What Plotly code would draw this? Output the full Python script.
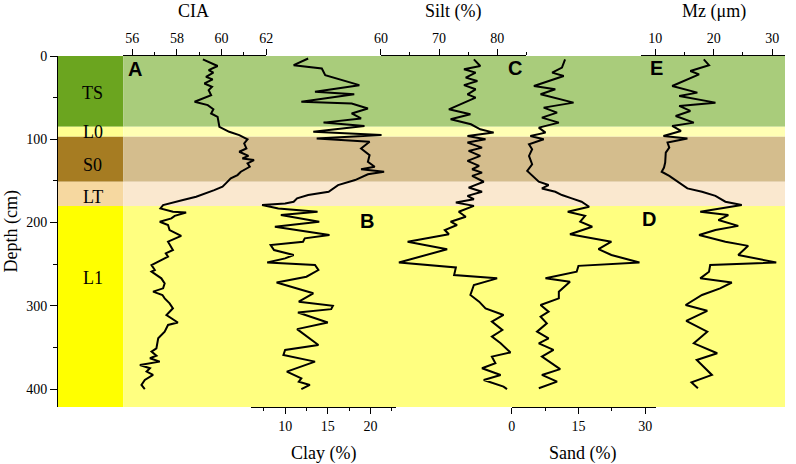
import plotly.graph_objects as go

# ---------------- data ----------------
layer_names = ["TS", "L0", "S0", "LT", "L1"]
layer_top = [0, 85, 97, 151, 180]
layer_bottom = [85, 97, 151, 180, 421.5]

cia_depth = [4, 12, 17, 20, 25, 28, 33, 37, 41, 47, 55, 59, 64, 69, 73, 85, 91, 95, 100, 105,
             111, 115, 120, 123, 125, 129, 133, 139, 143, 147, 153, 157, 161, 165, 169, 173,
             176, 179, 183, 187, 188, 192, 195, 199, 203, 209, 216, 223, 233, 237, 241, 251,
             257, 259, 267, 273, 279, 283, 287, 291, 297, 303, 311, 320, 323, 331, 339, 351,
             355, 360, 363, 367, 371, 375, 379, 383, 389, 395, 400]
cia = [59.16, 59.82, 59.42, 59.63, 59.30, 59.60, 59.23, 59.57, 59.42, 59.53, 58.79, 59.38,
       59.63, 59.53, 59.82, 59.90, 60.34, 60.79, 61.16, 61.01, 61.11, 60.79, 61.20, 60.93,
       61.45, 61.16, 61.26, 60.86, 60.71, 60.41, 60.19, 60.04, 59.67, 59.30, 58.86, 58.27,
       57.82, 57.38, 57.26, 57.82, 58.41, 57.90, 57.75, 57.23, 57.60, 57.67, 58.19, 57.60,
       57.82, 57.50, 57.60, 56.86, 57.01, 56.86, 57.30, 57.45, 57.38, 56.93, 57.35, 57.45,
       57.67, 57.82, 57.53, 58.04, 57.60, 57.45, 57.16, 57.08, 56.86, 57.08, 56.79, 57.23,
       56.34, 56.79, 56.64, 56.93, 56.56, 56.41, 56.56]

clay_depth = [3, 11, 15, 23, 35, 43, 46, 55, 57, 63, 69, 75, 80, 84, 91, 95, 99, 103, 111, 119,
              127, 133, 136, 139, 142, 149, 155, 163, 167, 171, 175, 177, 179, 183, 187, 191,
              199, 205, 215, 219, 223, 227, 233, 239, 243, 248, 251, 257, 265, 272, 285, 295,
              300, 304, 308, 320, 328, 347, 353, 359, 367, 379, 387, 391, 395, 400]
clay = [12.7, 11.0, 14.3, 14.7, 18.7, 13.5, 18.1, 11.9, 17.8, 19.7, 17.8, 18.9, 14.5, 19.3,
        13.3, 21.3, 13.7, 19.9, 18.9, 19.9, 19.7, 20.5, 18.9, 21.6, 19.7, 18.2, 16.2, 15.1,
        12.7, 11.4, 11.0, 10.0, 7.3, 9.2, 13.8, 9.5, 14.0, 8.8, 15.2, 12.3, 12.1, 8.3, 8.7,
        11.0, 10.0, 7.9, 13.5, 13.9, 12.5, 9.0, 13.3, 11.6, 15.6, 15.4, 11.5, 15.0, 11.4,
        13.9, 10.0, 9.8, 13.5, 10.2, 11.9, 11.6, 12.9, 11.9]

silt_depth = [4, 12, 16, 20, 26, 30, 35, 40, 46, 50, 64, 70, 76, 82, 88, 92, 96, 100, 104, 110,
              114, 120, 126, 132, 136, 140, 144, 151, 158, 163, 168, 172, 176, 180, 187, 193,
              199, 203, 209, 214, 223, 232, 248, 254, 263, 267, 275, 287, 295, 303, 311, 319,
              329, 337, 345, 356, 361, 369, 375, 383, 389, 397, 400]
silt = [76.0, 77.1, 74.3, 76.3, 74.6, 76.6, 74.3, 76.3, 74.9, 76.3, 71.7, 75.4, 72.0, 75.5,
        77.1, 79.4, 74.9, 78.0, 74.9, 77.4, 75.1, 77.1, 74.9, 76.9, 75.7, 77.4, 75.7, 77.7,
        75.1, 77.4, 74.9, 76.0, 72.9, 76.0, 73.4, 74.6, 72.0, 73.1, 71.0, 71.7, 64.6, 71.4,
        63.1, 72.9, 72.6, 80.0, 76.0, 75.4, 76.9, 78.0, 81.1, 79.1, 80.9, 79.1, 80.6, 82.3,
        79.1, 79.7, 77.4, 80.6, 77.7, 81.1, 81.7]

sand_depth = [4, 14, 20, 24, 36, 40, 46, 56, 62, 68, 74, 80, 86, 92, 96, 100, 106, 112, 120, 130,
              138, 146, 151, 155, 159, 163, 167, 171, 175, 181, 187, 192, 199, 205, 214, 223,
              232, 239, 248, 252, 259, 267, 271, 283, 291, 299, 307, 313, 321, 331, 339, 345,
              353, 361, 376, 383, 391, 399]
sand = [12.0, 11.3, 9.1, 11.7, 5.0, 9.8, 6.5, 13.9, 7.2, 10.2, 6.8, 10.6, 6.1, 7.6, 4.2, 7.2,
        3.9, 4.6, 3.9, 4.6, 3.5, 5.0, 6.1, 8.3, 6.8, 9.8, 11.3, 13.5, 15.7, 17.4, 12.6, 16.5,
        15.4, 18.1, 13.1, 22.4, 19.5, 22.4, 28.7, 15.0, 14.6, 7.6, 13.1, 10.6, 10.6, 6.5, 8.3,
        6.5, 7.9, 5.7, 8.3, 6.1, 9.4, 6.8, 10.9, 6.8, 10.2, 6.1]

mz_depth = [4, 11, 18, 22, 36, 44, 48, 56, 60, 66, 72, 80, 84, 90, 96, 99, 104, 110, 116, 128,
            134, 139, 144, 149, 154, 159, 163, 168, 175, 179, 187, 191, 197, 204, 209, 215, 223,
            228, 239, 248, 251, 259, 267, 272, 279, 287, 299, 306, 318, 331, 345, 357, 365,
            383, 392, 399]
mz = [18.3, 19.2, 16.0, 17.5, 12.9, 17.2, 14.1, 20.3, 14.1, 16.0, 13.5, 16.6, 12.9, 14.4, 11.4,
      15.5, 12.1, 12.4, 11.8, 11.7, 11.5, 11.1, 12.4, 13.5, 14.6, 15.5, 18.0, 20.3, 22.0, 24.8,
      17.7, 22.5, 20.8, 24.2, 20.3, 17.5, 22.0, 25.9, 24.2, 30.7, 19.4, 19.2, 17.7, 23.1, 21.1,
      18.0, 15.2, 18.9, 15.3, 18.9, 16.6, 20.6, 17.1, 19.7, 16.2, 17.3]

# ---------------- layout helpers ----------------
W, H = 796, 464
ML, MR, MT, MB = 57, 4, 56, 57
PW = W - ML - MR
PH = H - MT - MB


def px2x(px):
    return (px - ML) / PW


def py2y(py):
    return (H - MB - py) / PH


col_fill = ["#6BA51F", "#FFFF90", "#A67C22", "#F6D8A0", "#FFFF00"]
band_fill = ["#A9CC7B", "#FFFFB4", "#D4BD8D", "#FAE8CF", "#FFFF80"]
label_depth = [44, 91, 131, 169, 266]

SERIF = "Liberation Serif, Times New Roman, serif"
SANS = "Liberation Sans, Arial, sans-serif"

fig = go.Figure()

series = [
    (cia, cia_depth, "x2"),
    (clay, clay_depth, "x3"),
    (silt, silt_depth, "x4"),
    (sand, sand_depth, "x5"),
    (mz, mz_depth, "x6"),
]
for xs, ys, xa in series:
    fig.add_trace(go.Scatter(x=xs, y=ys, mode="lines", xaxis=xa, yaxis="y",
                             line=dict(color="black", width=2), showlegend=False,
                             hoverinfo="skip"))

col_edge = px2x(124)
shapes = []
for i in range(len(layer_names)):
    shapes.append(dict(type="rect", xref="paper", yref="y", x0=0, x1=col_edge,
                       y0=layer_top[i], y1=layer_bottom[i], fillcolor=col_fill[i],
                       line=dict(width=0), layer="below"))
    shapes.append(dict(type="rect", xref="paper", yref="y", x0=col_edge, x1=1,
                       y0=layer_top[i], y1=layer_bottom[i], fillcolor=band_fill[i],
                       line=dict(width=0), layer="below"))

tickfont = dict(family=SERIF, size=14, color="black")


def xax(px0, px1, rng, side, tickvals, minor_vals):
    return dict(domain=[px2x(px0), min(1.0, px2x(px1))], range=rng, side=side, anchor="y",
                showline=True, linecolor="black", linewidth=1, ticks="outside", ticklen=6,
                tickwidth=1, tickcolor="black", tickmode="array", tickvals=tickvals,
                tickfont=tickfont, showgrid=False, zeroline=False, fixedrange=True,
                minor=dict(tickmode="array", tickvals=minor_vals, ticks="outside",
                           ticklen=3, tickwidth=1, tickcolor="black", showgrid=False))


annotations = []
for i, name in enumerate(layer_names):
    annotations.append(dict(text=name, xref="paper", yref="y", x=px2x(93), y=label_depth[i],
                            showarrow=False, font=dict(family=SERIF, size=18, color="black"),
                            xanchor="center", yanchor="middle"))

for txt, cx, cy in [("CIA", 195, 11), ("Silt (%)", 457, 11), ("Mz (\u03bcm)", 720, 11),
                    ("Clay (%)", 326, 453), ("Sand (%)", 588, 453)]:
    annotations.append(dict(text=txt, xref="paper", yref="paper", x=px2x(cx), y=py2y(cy),
                            showarrow=False, font=dict(family=SERIF, size=18, color="black"),
                            xanchor="center", yanchor="middle"))

annotations.append(dict(text="Depth (cm)", xref="paper", yref="paper", x=px2x(11), y=py2y(231),
                        showarrow=False, textangle=-90,
                        font=dict(family=SERIF, size=18, color="black"),
                        xanchor="center", yanchor="middle"))

for txt, cx, cy in [("A", 136, 69), ("B", 370, 221), ("C", 519, 68), ("D", 655, 219),
                    ("E", 662, 68)]:
    annotations.append(dict(text="<b>%s</b>" % txt, xref="paper", yref="paper", x=px2x(cx),
                            y=py2y(cy), showarrow=False,
                            font=dict(family=SANS, size=20, color="black"),
                            xanchor="center", yanchor="middle"))

fig.update_layout(
    width=W, height=H,
    margin=dict(l=ML, r=MR, t=MT, b=MB, pad=0),
    paper_bgcolor="white", plot_bgcolor="rgba(0,0,0,0)",
    showlegend=False,
    shapes=shapes,
    annotations=annotations,
    xaxis=dict(domain=[0, 1], range=[0, 1], visible=False, fixedrange=True),
    xaxis2=xax(124, 268.3, [55.6, 62], "top", [56, 58, 60, 62], [57, 59, 61]),
    xaxis3=xax(253.3, 399.3, [6.05, 23.0], "bottom", [10, 15, 20], [7.5, 12.5, 17.5, 22.5]),
    xaxis4=xax(384, 530.7, [60, 85], "top", [60, 70, 80], [65, 75, 85]),
    xaxis5=xax(516, 661.7, [0, 32.4], "bottom", [0, 15, 30], [7.5, 22.5]),
    xaxis6=xax(646.7, 792, [7.576, 32.2], "top", [10, 20, 30], [15, 25]),
    yaxis=dict(domain=[0, 1], range=[421.5, 0], anchor="free", position=0,
               showline=True, linecolor="black", linewidth=1, ticks="outside", ticklen=7,
               tickcolor="black", tickmode="array", tickvals=[0, 100, 200, 300, 400],
               tickfont=tickfont, showgrid=False, zeroline=False, fixedrange=True,
               minor=dict(tickmode="array", tickvals=[50, 150, 250, 350], ticks="outside",
                          ticklen=4, tickcolor="black", showgrid=False)),
)

fig.write_html("out.html",
               config=dict(displayModeBar=False, staticPlot=True),
               post_script="document.body.style.margin='0px';"
                           "document.body.style.overflow='hidden';")
